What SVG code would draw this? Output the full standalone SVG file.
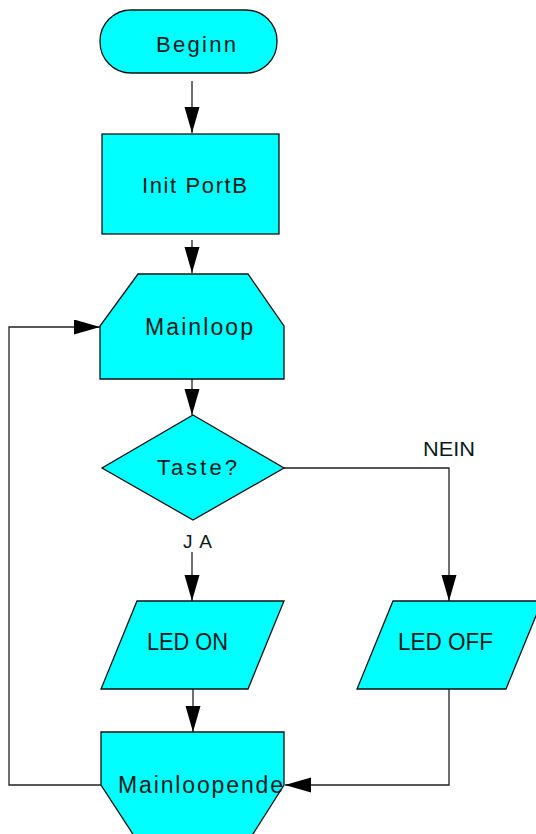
<svg xmlns="http://www.w3.org/2000/svg" width="536" height="834" viewBox="0 0 536 834">
<defs>
<style>
.node{fill:#00FFFF;stroke:#111;stroke-width:1.3}
.lbl{font-family:"Liberation Sans",Arial,sans-serif;font-size:23px;fill:#0a1a1a}
.edge{fill:none;stroke:#222;stroke-width:1.3}
</style>
<marker id="arr" markerUnits="userSpaceOnUse" markerWidth="26" markerHeight="16" refX="26" refY="7.5" orient="auto">
<path d="M0,0 L26,7.5 L0,15 z" fill="#000"/>
</marker>
</defs>
<rect width="536" height="834" fill="#fff"/>
<g id="connectors">
<path class="edge" d="M192,81 V133" marker-end="url(#arr)"/>
<path class="edge" d="M192,240 V273" marker-end="url(#arr)"/>
<path class="edge" d="M192,379 V415" marker-end="url(#arr)"/>
<path class="edge" d="M192,552 V601" marker-end="url(#arr)"/>
<path class="edge" d="M284,468 H449 V601" marker-end="url(#arr)"/>
<path class="edge" d="M193,689 V732" marker-end="url(#arr)"/>
<path class="edge" d="M449,689 V785 H285" marker-end="url(#arr)"/>
<path class="edge" d="M101,785 H9 V327 H100" marker-end="url(#arr)"/>
</g>
<g id="beginn">
<rect class="node" x="100" y="10" width="177" height="63" rx="31" ry="31"/>
<text class="lbl" x="156" y="52" textLength="80" lengthAdjust="spacing" style="font-size:22px">Beginn</text>
</g>
<g id="init">
<rect class="node" x="102" y="134" width="177" height="100"/>
<text class="lbl" x="142" y="193" textLength="105" lengthAdjust="spacing" style="font-size:22px">Init PortB</text>
</g>
<g id="mainloop">
<polygon class="node" points="138,274 248,274 284,326 284,379 100,379 100,326"/>
<text class="lbl" x="145" y="335" textLength="108" lengthAdjust="spacing">Mainloop</text>
</g>
<g id="taste">
<polygon class="node" points="193,415 284,468 193,520 102,468"/>
<text class="lbl" x="157" y="475" textLength="80" lengthAdjust="spacing" style="font-size:22px">Taste?</text>
</g>
<g id="labels">
<text class="lbl" x="423" y="456" textLength="52" lengthAdjust="spacingAndGlyphs" style="font-size:21px">NEIN</text>
<text class="lbl" x="183" y="548" textLength="29" lengthAdjust="spacing" style="font-size:19px">JA</text>
</g>
<g id="ledon">
<polygon class="node" points="137,601 284,601 248,689 101,689"/>
<text class="lbl" x="147" y="650" textLength="81" lengthAdjust="spacingAndGlyphs">LED ON</text>
</g>
<g id="ledoff">
<polygon class="node" points="393,601 542,601 506,689 357,689"/>
<text class="lbl" x="398" y="650" textLength="95" lengthAdjust="spacingAndGlyphs">LED OFF</text>
</g>
<g id="mainloopende">
<polygon class="node" points="101,732 284,732 284,785 246,845 140,845 101,785"/>
<text class="lbl" x="118" y="793" textLength="165" lengthAdjust="spacing">Mainloopende</text>
</g>
</svg>
